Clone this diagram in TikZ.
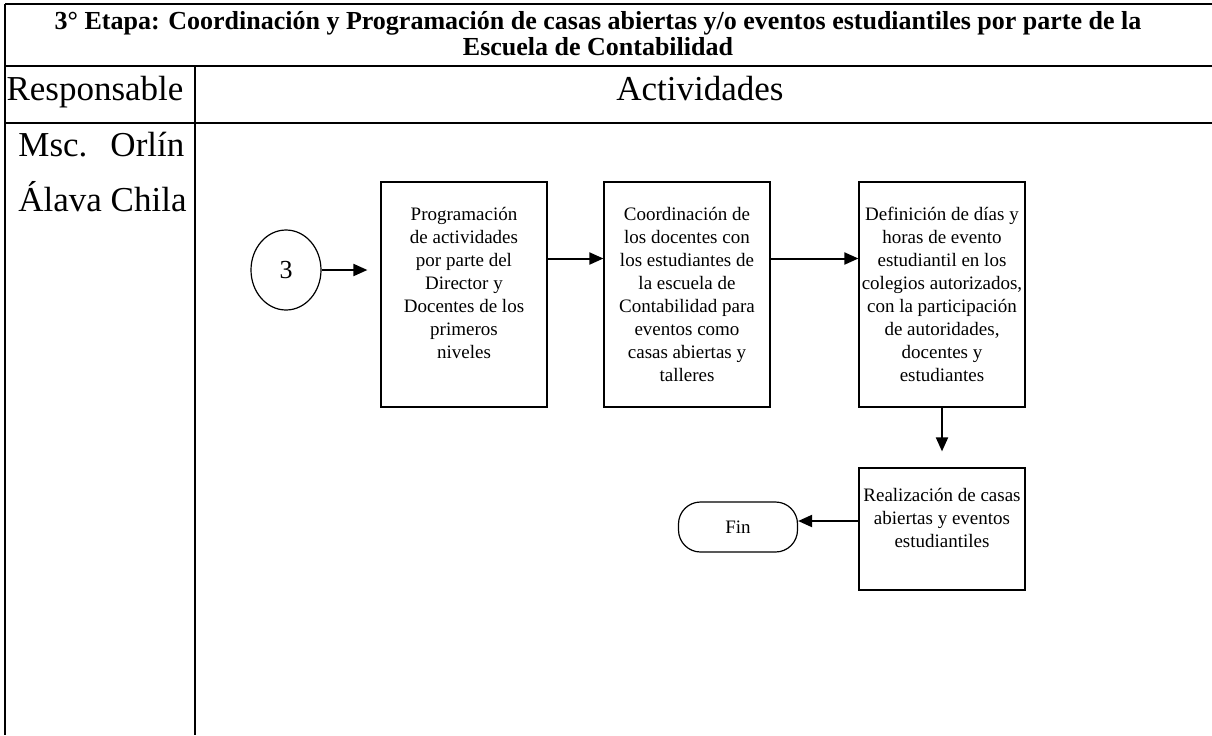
\documentclass[tikz,border=0pt]{standalone}
\usepackage{fontspec}
\setmainfont{Liberation Serif}
\usetikzlibrary{shapes.geometric,arrows.meta}

\begin{document}
\begin{tikzpicture}[x=0.5pt,y=-0.5pt]
        \tikzset{caja/.style={draw, line width=0.6pt, inner sep=0pt, minimum width=83pt, minimum height=112.5pt,
                              align=center, font=\fontsize{9.5}{11.5}\selectfont},
                 flecha/.style={-{Triangle[length=7pt,width=6pt]}, line width=1pt},
                 linea/.style={line width=1pt},
                 grande/.style={font=\fontsize{17.5}{20}\selectfont}}
        \useasboundingbox (0,0) rectangle (1212,735);
        \draw [linea] (5,4) -- (1212,4);
        \draw [linea] (5,66) -- (1212,66);
        \draw [linea] (5,123) -- (1212,123);
        \draw [linea] (5,4) -- (5,735);
        \draw [linea] (195,66) -- (195,735);
        \node [font=\fontsize{13}{11.2}\selectfont\bfseries, align=center] (titulo) at (598,33.5)
              {3° Etapa: Coordinación y Programación de casas abiertas y/o eventos estudiantiles por parte de la\\Escuela de Contabilidad};
        \node [grande, anchor=base] (resp) at (95,100) {Responsable};
        \node [grande, anchor=base] (act)  at (700,100) {Actividades};
        \node [grande, anchor=base west, inner sep=0pt] (nom1) at (18,156) {\makebox[83pt][s]{Msc.\hfill Orlín}};
        \node [grande, anchor=base west, inner sep=0pt] (nom2) at (18,211) {Álava Chila};
        \node [draw, line width=0.6pt, ellipse, minimum width=35pt, minimum height=40pt, inner sep=0pt,
               font=\fontsize{13}{14}\selectfont] (0) at (286,270) {3};
        \node [caja] (1) at (464,294.5) {Programación\\de actividades\\por parte del\\Director y\\Docentes de los\\primeros\\niveles\\ \mbox{}};
        \node [caja] (2) at (687,294.5) {Coordinación de\\los docentes con\\los estudiantes de\\la escuela de\\Contabilidad para\\eventos como\\casas abiertas y\\talleres};
        \node [caja] (3) at (942,294.5) {Definición de días y\\horas de evento\\estudiantil en los\\colegios autorizados,\\con la participación\\de autoridades,\\docentes y\\estudiantes};
        \node [caja, minimum height=61pt] (4) at (942,529) {Realización de casas\\abiertas y eventos\\estudiantiles\\ \mbox{}};
        \node [draw, line width=0.6pt, rounded corners=11pt, minimum width=59.5pt, minimum height=25pt,
               font=\fontsize{9.5}{12}\selectfont] (fin) at (738,527) {Fin};
        \draw [flecha, shorten >=6.5pt] (0) -- (0 -| 1.west);
        \draw [flecha] ([yshift=18pt]1.east) -- ([yshift=18pt]2.west);
        \draw [flecha] ([yshift=18pt]2.east) -- ([yshift=18pt]3.west);
        \draw [flecha, shorten >=8pt] (3) -- (4);
        \draw [flecha] ([yshift=4pt]4.west) -- ([yshift=4pt]4.west -| fin.east);
\end{tikzpicture}
\end{document}
